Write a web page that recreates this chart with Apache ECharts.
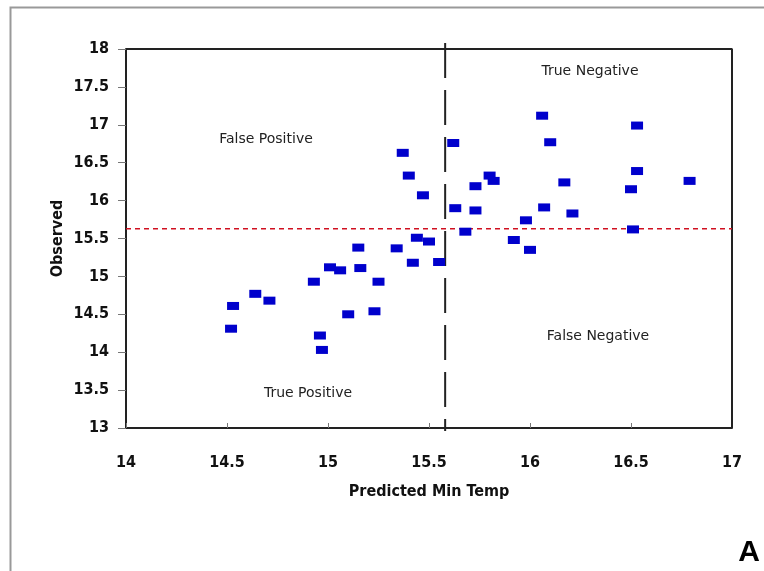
<!DOCTYPE html>
<html>
<head>
<meta charset="utf-8">
<script src="https://cdn.jsdelivr.net/npm/echarts@6/dist/echarts.min.js"></script>
<style>
  html, body { margin: 0; padding: 0; background: #fff; }
  #chart { width: 764px; height: 571px; }
</style>
</head>
<body>
<div id="chart"></div>
<script>
// predicted min temp vs observed
var predicted = [14.52, 14.53, 14.64, 14.71, 14.93, 14.96, 14.97, 15.01, 15.06, 15.10,
  15.15, 15.16, 15.23, 15.25, 15.34, 15.37, 15.40, 15.42, 15.44, 15.47,
  15.50, 15.55, 15.62, 15.63, 15.68, 15.73, 15.73, 15.80, 15.82, 15.92,
  15.98, 16.00, 16.06, 16.07, 16.10, 16.17, 16.21, 16.50, 16.51, 16.53,
  16.53, 16.79]
var observed = [14.31, 14.61, 14.77, 14.68, 14.93, 14.22, 14.03, 15.12, 15.08, 14.50,
  15.38, 15.11, 14.54, 14.93, 15.37, 16.63, 16.33, 15.18, 15.51, 16.07,
  15.46, 15.19, 16.76, 15.90, 15.59, 16.19, 15.87, 16.33, 16.26, 15.48,
  15.74, 15.35, 17.12, 15.91, 16.77, 16.24, 15.83, 16.15, 15.62, 16.99,
  16.39, 16.26]
var thresholdX = 15.58
var thresholdY = 15.63
var quadrantLabels = ['False Positive', 'True Negative', 'False Negative', 'True Positive']

var points = predicted.map(function(x, i) { return [x, observed[i]] })

var labelFont = '"Liberation Sans Narrow", "DejaVu Sans Condensed", "Arial Narrow", sans-serif'
var textFont = '"DejaVu Sans", "Liberation Sans", sans-serif'

var chart = echarts.init(document.getElementById('chart'))
chart.setOption({
  backgroundColor: '#fff',
  animation: false,
  grid: { left: 126, top: 49, width: 606, height: 379 },
  xAxis: {
    type: 'value',
    min: 14,
    max: 17,
    interval: 0.5,
    name: 'Predicted Min Temp',
    nameLocation: 'middle',
    nameGap: 56,
    nameMoveOverlap: false,
    nameTextStyle: { fontFamily: labelFont, fontWeight: 'bold', fontSize: 16, color: '#111' },
    axisLine: { onZero: false, lineStyle: { color: '#222', width: 2 } },
    axisTick: { show: true, inside: true, length: 5, lineStyle: { color: '#777' } },
    axisLabel: { fontFamily: labelFont, fontWeight: 'bold', fontSize: 16, color: '#111', margin: 27 },
    splitLine: { show: false }
  },
  yAxis: {
    type: 'value',
    min: 13,
    max: 18,
    interval: 0.5,
    name: 'Observed',
    nameLocation: 'middle',
    nameGap: 60,
    nameMoveOverlap: false,
    nameTextStyle: { fontFamily: labelFont, fontWeight: 'bold', fontSize: 16, color: '#111' },
    axisLine: { onZero: false, lineStyle: { color: '#222', width: 2 } },
    axisTick: { show: true, length: 8, lineStyle: { color: '#777' } },
    axisLabel: { fontFamily: labelFont, fontWeight: 'bold', fontSize: 16, color: '#111', margin: 17 },
    splitLine: { show: false }
  },
  series: [
    {
      type: 'scatter',
      data: points,
      symbol: 'rect',
      symbolSize: [12, 8],
      itemStyle: { color: '#0000cc', opacity: 1 },
      z: 3
    },
    {
      // red threshold on observed
      type: 'line',
      data: [[14, thresholdY], [17, thresholdY]],
      symbol: 'none',
      silent: true,
      lineStyle: { color: '#d01020', width: 1.5, type: [5, 4] },
      z: 2
    },
    {
      // black threshold on predicted
      type: 'line',
      data: [[thresholdX, 18.08], [thresholdX, 12.96]],
      symbol: 'none',
      silent: true,
      clip: false,
      lineStyle: { color: '#222', width: 2, type: [35, 12] },
      z: 2
    },
    {
      // box top / right edges
      type: 'line',
      data: [[14, 18], [17, 18], [17, 13]],
      symbol: 'none',
      silent: true,
      clip: false,
      lineStyle: { color: '#222', width: 2 },
      z: 1
    }
  ],
  graphic: [
    { type: 'rect', left: 8, top: 5, shape: { width: 800, height: 600 }, style: { fill: 'none', stroke: '#999', lineWidth: 2 } },
    { type: 'text', x: 266, y: 139, style: { text: quadrantLabels[0], font: '14px ' + textFont, fill: '#222', textAlign: 'center', textVerticalAlign: 'middle' } },
    { type: 'text', x: 590, y: 71, style: { text: quadrantLabels[1], font: '14px ' + textFont, fill: '#222', textAlign: 'center', textVerticalAlign: 'middle' } },
    { type: 'text', x: 598, y: 336, style: { text: quadrantLabels[2], font: '14px ' + textFont, fill: '#222', textAlign: 'center', textVerticalAlign: 'middle' } },
    { type: 'text', x: 308, y: 393, style: { text: quadrantLabels[3], font: '14px ' + textFont, fill: '#222', textAlign: 'center', textVerticalAlign: 'middle' } },
    { type: 'text', x: 749, y: 553, style: { text: 'A', font: 'bold 30px "Liberation Sans", sans-serif', fill: '#000', textAlign: 'center', textVerticalAlign: 'middle' } }
  ]
})
</script>
</body>
</html>
